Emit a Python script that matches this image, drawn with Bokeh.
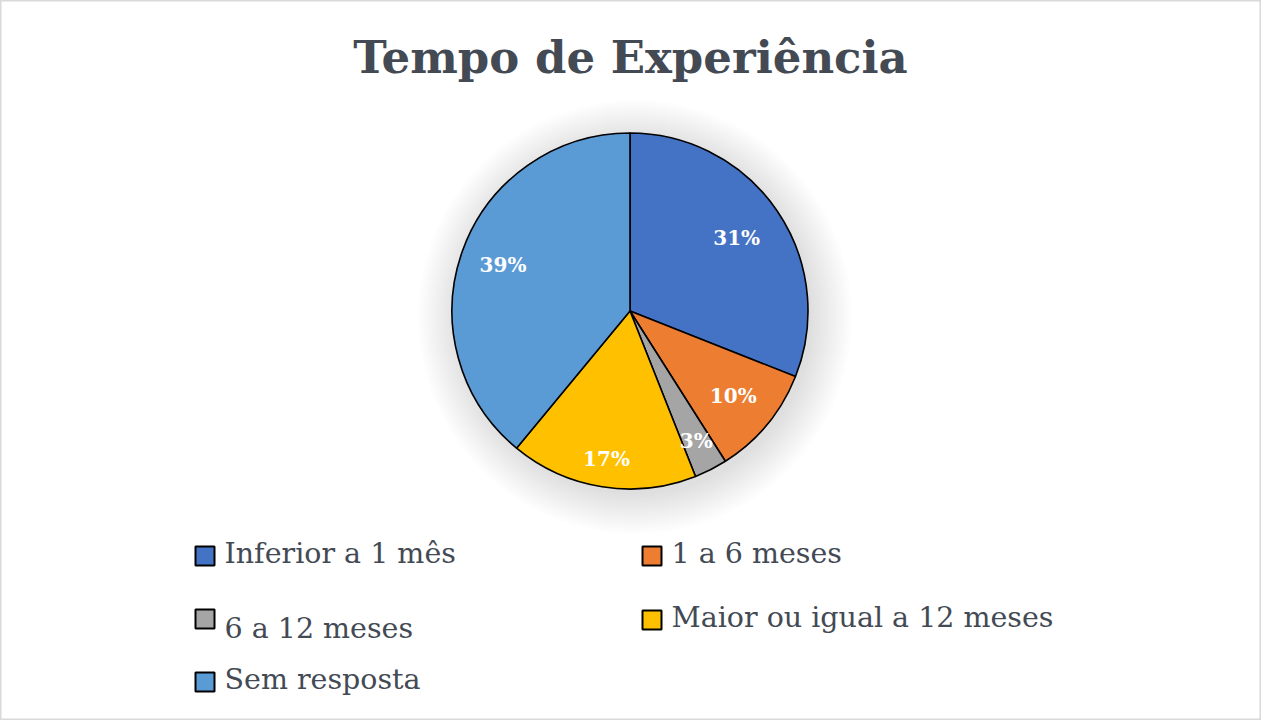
import math
from bokeh.plotting import figure
from bokeh.models import Range1d, ColumnDataSource
from bokeh.core.properties import value
from bokeh.embed import file_html
from bokeh.resources import INLINE

# ---- data ----
categories = ["Inferior a 1 mês", "1 a 6 meses", "6 a 12 meses",
              "Maior ou igual a 12 meses", "Sem resposta"]
percents = [31, 10, 3, 17, 39]
colors = ["#4472C4", "#ED7D31", "#A5A5A5", "#FFC000", "#5B9BD5"]
title_text = "Tempo de Experiência"

# ---- layout (page pixel helpers) ----
W, H = 1261, 720
def X(px):
    return px - 8
def Y(py):
    return H - (py - 8)

cx, cy, R = X(637.5), Y(318.5), 178
label_r = [129, 134, 146, 150, 135]
SERIF = "DejaVu Serif"
TXT = "#434a54"

p = figure(width=W, height=H, x_range=Range1d(0, W), y_range=Range1d(0, H),
           output_backend="svg", toolbar_location=None, min_border=0)
p.axis.visible = False
p.grid.visible = False
p.outline_line_color = "#d9d9d9"
p.outline_line_width = 2
p.background_fill_color = "white"
p.border_fill_color = "white"

# soft shadow
for i in range(16):
    p.circle(x=cx + 5, y=cy - 6, radius=R + i * 2.6, fill_color="black",
             fill_alpha=0.0075, line_color=None)

total = sum(percents)
starts, ends, mids = [], [], []
cum = 0
for v in percents:
    a0 = math.pi / 2 - 2 * math.pi * cum / total
    cum += v
    a1 = math.pi / 2 - 2 * math.pi * cum / total
    starts.append(a0); ends.append(a1); mids.append((a0 + a1) / 2)

src = ColumnDataSource(dict(start=starts, end=ends, color=colors))
p.wedge(x=cx, y=cy, radius=R, start_angle="start", end_angle="end",
        direction="clock", fill_color="color", line_color="black",
        line_width=1.6, source=src)

lx = [cx + r * math.cos(m) for r, m in zip(label_r, mids)]
ly = [cy + r * math.sin(m) for r, m in zip(label_r, mids)]
p.text(x=lx, y=ly, text=[f"{v}%" for v in percents], text_color="white",
       text_font=value(SERIF), text_font_style="bold", text_font_size="20px",
       text_align="center", text_baseline="middle")

# title
p.text(x=[X(638)], y=[Y(65)], text=[title_text], text_font=value(SERIF),
       text_font_style="bold", text_font_size="45px", text_color=TXT,
       text_align="center", text_baseline="alphabetic")

# legend
leg_sq_x = [203, 650, 203, 650, 203]
leg_sq_y = [554, 554, 617, 618, 680]
leg_tx_y = [561, 561, 636, 625, 687]
sq = 19
p.rect(x=[X(x0 + sq / 2) for x0 in leg_sq_x], y=[Y(y0 + sq / 2) for y0 in leg_sq_y],
       width=sq, height=sq, fill_color=colors, line_color="black", line_width=2)
p.text(x=[X(x0 + 29) for x0 in leg_sq_x], y=[Y(t) for t in leg_tx_y], text=categories,
       text_font=value(SERIF), text_font_size="28.5px", text_color=TXT,
       text_align="left", text_baseline="alphabetic")

open("out.html", "w").write(file_html(p, INLINE))
